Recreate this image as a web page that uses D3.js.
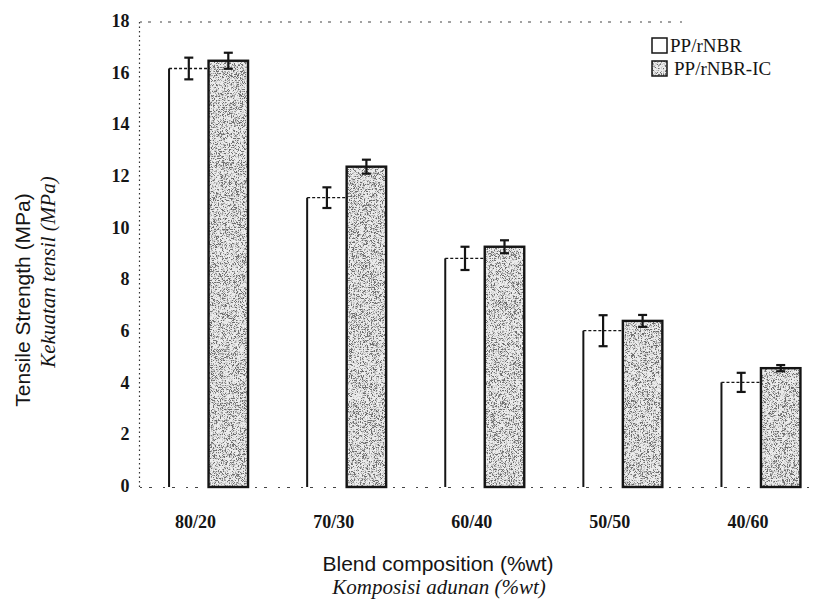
<!DOCTYPE html>
<html><head><meta charset="utf-8">
<script src="https://cdn.jsdelivr.net/npm/d3@7"></script>
<style>body{margin:0;background:#fff}</style>
</head><body><svg id="c" width="818" height="602"></svg>
<script>
const categories = ["80/20","70/30","60/40","50/50","40/60"];
const seriesNames = ["PP/rNBR","PP/rNBR-IC"];
const ppRNBR = [16.2, 11.2, 8.85, 6.05, 4.05];
const ppRNBRErr = [0.42, 0.4, 0.45, 0.6, 0.37];
const ppRNBRIC = [16.5, 12.4, 9.3, 6.43, 4.6];
const ppRNBRICErr = [0.31, 0.27, 0.25, 0.23, 0.12];
const yTicks = [0, 2, 4, 6, 8, 10, 12, 14, 16, 18];

const svg = d3.select("#c");
svg.append("rect").attr("width",818).attr("height",602).attr("fill","#fff");

const defs = svg.append("defs");
const f = defs.append("filter").attr("id","speck").attr("x",0).attr("y",0).attr("width","100%").attr("height","100%");
f.append("feTurbulence").attr("type","fractalNoise").attr("baseFrequency","0.55").attr("numOctaves",2).attr("seed",7).attr("result","n");
f.append("feColorMatrix").attr("in","n").attr("type","matrix")
  .attr("values","2.4 0 0 0 -0.7  2.4 0 0 0 -0.7  2.4 0 0 0 -0.7  0 0 0 0 1").attr("result","g");
const ct = f.append("feComponentTransfer").attr("in","g").attr("result","t");
const tv = "0.15 0.35 0.6 0.78 0.84 0.86 0.8 0.62 0.38 0.18";
ct.append("feFuncR").attr("type","discrete").attr("tableValues",tv);
ct.append("feFuncG").attr("type","discrete").attr("tableValues",tv);
ct.append("feFuncB").attr("type","discrete").attr("tableValues",tv);
f.append("feComposite").attr("in","t").attr("in2","SourceGraphic").attr("operator","in");

const x = d3.scaleBand().domain(categories).range([139.5, 830]).paddingInner(0.428).paddingOuter(0.214);
const xs = d3.scaleBand().domain(seriesNames).range([0, x.bandwidth()]);
const y = d3.scaleLinear().domain([0, 18]).range([487, 22]);

const ink = "#151515";

// frame: dotted left axis, dotted top line, dotted baseline
svg.append("line").attr("x1",139.5).attr("x2",139.5).attr("y1",y(18)).attr("y2",y(0))
  .attr("stroke","#333").attr("stroke-width",1.2).attr("stroke-dasharray","1.5,3");
svg.append("line").attr("x1",140).attr("x2",688).attr("y1",y(18)).attr("y2",y(18))
  .attr("stroke","#444").attr("stroke-width",1.2).attr("stroke-dasharray","2,6,3,9");
svg.append("line").attr("x1",140).attr("x2",812).attr("y1",y(0)+0.5).attr("y2",y(0)+0.5)
  .attr("stroke","#444").attr("stroke-width",1.2).attr("stroke-dasharray","2,7,3,11");

// y axis
const ya = svg.append("g").attr("transform","translate(139.5,0)")
  .call(d3.axisLeft(y).tickValues(yTicks).tickSize(0).tickPadding(10).tickFormat(d3.format("d")));
ya.select(".domain").remove();
ya.selectAll("text").attr("font-family","Liberation Serif, serif").attr("font-size",18)
  .attr("font-weight","bold").attr("fill",ink).attr("dy","0.25em");

// x axis (labels sit a little left of the group centre, as in the scan)
const xa = svg.append("g").attr("transform",`translate(0,${y(0)})`)
  .call(d3.axisBottom(x).tickSize(0).tickPadding(28));
xa.select(".domain").remove();
xa.selectAll("text").attr("font-family","Liberation Serif, serif").attr("font-size",18)
  .attr("font-weight","bold").attr("fill",ink).attr("dx",-13);

// bars
const g = svg.append("g");
categories.forEach((c, i) => {
  const x0 = x(c);
  const wl = x0 + xs("PP/rNBR");
  const gl = x0 + xs("PP/rNBR-IC");
  const bw = xs.bandwidth();
  g.append("line").attr("x1",wl).attr("x2",wl).attr("y1",y(0)).attr("y2",y(ppRNBR[i]))
    .attr("stroke",ink).attr("stroke-width",2);
  g.append("line").attr("x1",wl).attr("x2",gl).attr("y1",y(ppRNBR[i])).attr("y2",y(ppRNBR[i]))
    .attr("stroke",ink).attr("stroke-width",1.3).attr("stroke-dasharray","3,2");
  g.append("rect").attr("x",gl).attr("y",y(ppRNBRIC[i])).attr("width",bw).attr("height",y(0)-y(ppRNBRIC[i]))
    .attr("fill","#aaa").attr("filter","url(#speck)");
  g.append("rect").attr("x",gl).attr("y",y(ppRNBRIC[i])).attr("width",bw).attr("height",y(0)-y(ppRNBRIC[i]))
    .attr("fill","none").attr("stroke",ink).attr("stroke-width",2.4);
  [[wl + bw/2, ppRNBR[i], ppRNBRErr[i]], [gl + bw/2, ppRNBRIC[i], ppRNBRICErr[i]]].forEach(([cx, v, e]) => {
    g.append("line").attr("x1",cx).attr("x2",cx).attr("y1",y(v+e)).attr("y2",y(v-e))
      .attr("stroke",ink).attr("stroke-width",2.2);
    [v+e, v-e].forEach(t => g.append("line").attr("x1",cx-4.5).attr("x2",cx+4.5).attr("y1",y(t)).attr("y2",y(t))
      .attr("stroke",ink).attr("stroke-width",2.2));
  });
});

// legend
const lg = svg.append("g").attr("transform","translate(652,38)");
seriesNames.forEach((s, i) => {
  const row = lg.append("g").attr("transform",`translate(0,${i*23})`);
  if (i === 1) row.append("rect").attr("width",15).attr("height",15).attr("fill","#aaa").attr("filter","url(#speck)");
  row.append("rect").attr("width",15).attr("height",15).attr("fill",i===0?"#fff":"none")
    .attr("stroke",ink).attr("stroke-width",1.5);
  row.append("text").attr("x",i===0?18:22).attr("y",14).text(s)
    .attr("font-family","Liberation Serif, serif").attr("font-size",19).attr("fill",ink);
});

// titles
svg.append("text").attr("transform","translate(30,300) rotate(-90)").attr("text-anchor","middle")
  .attr("font-family","Liberation Sans, Arial, sans-serif").attr("font-size",21).attr("fill",ink)
  .text("Tensile Strength (MPa)");
svg.append("text").attr("transform","translate(55,272) rotate(-90)").attr("text-anchor","middle")
  .attr("font-family","Liberation Serif, serif").attr("font-style","italic").attr("font-size",21).attr("fill",ink)
  .text("Kekuatan tensil (MPa)");
svg.append("text").attr("x",438).attr("y",571).attr("text-anchor","middle")
  .attr("font-family","Liberation Sans, Arial, sans-serif").attr("font-size",21).attr("fill",ink)
  .text("Blend composition (%wt)");
svg.append("text").attr("x",439).attr("y",594).attr("text-anchor","middle")
  .attr("font-family","Liberation Serif, serif").attr("font-style","italic").attr("font-size",21).attr("fill",ink)
  .text("Komposisi adunan (%wt)");
</script></body></html>
